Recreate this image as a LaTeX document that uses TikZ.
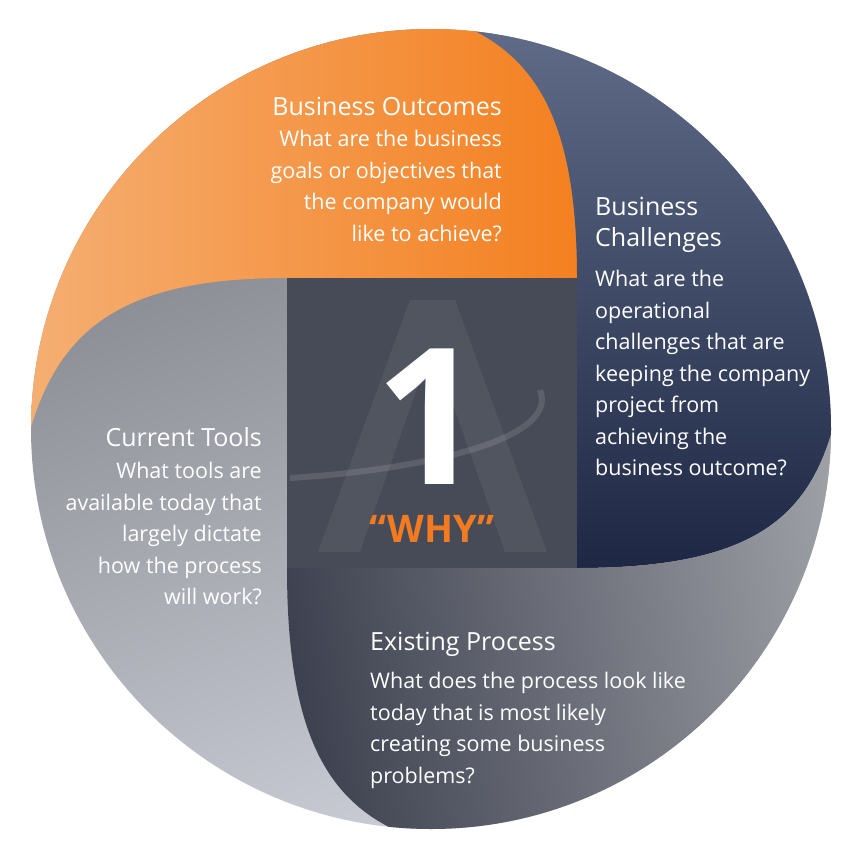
\documentclass[tikz,border=0pt]{standalone}
\usepackage{fontspec}
\setmainfont{Open Sans}
\definecolor{orangeA}{RGB}{244,128,32}
\definecolor{orangeB}{RGB}{245,178,120}
\definecolor{navyA}{RGB}{100,112,140}
\definecolor{navyB}{RGB}{30,40,68}
\definecolor{greyA}{RGB}{62,66,80}
\definecolor{greyB}{RGB}{160,162,168}
\definecolor{leftA}{RGB}{120,122,128}
\definecolor{leftB}{RGB}{208,211,220}
\definecolor{squareC}{RGB}{71,75,87}
\definecolor{whyC}{RGB}{242,122,32}
\begin{document}
\begin{tikzpicture}[x=1pt, y=-1pt,
    title/.style={text=white, font=\fontsize{25}{31}\selectfont, inner sep=0pt},
    body/.style={text=white, font=\fontsize{21.5}{31.5}\selectfont, inner sep=0pt}]
  \useasboundingbox (0,0) rectangle (862,862);
  \coordinate (c) at (431,429);
  % circle and petals
  \begin{scope}
    \clip (c) circle[radius=400pt];
    \shade[top color=leftA, bottom color=leftB, shading angle=20] (0,0) rectangle (862,862);
    \shade[left color=orangeB, right color=orangeA] (577,278) -- (287,278) .. controls (120,278) and (60,330) .. (30,430) -- (-10,430) -- (-10,-10) -- (450,-10) -- (450,20) .. controls (530,50) and (577,110) .. (577,278) -- cycle;
    \shade[top color=navyA, bottom color=navyB] (577,568) -- (577,278) .. controls (577,110) and (530,50) .. (450,20) -- (450,-10) -- (880,-10) -- (880,420) -- (835,420) .. controls (810,520) and (750,568) .. (577,568) -- cycle;
    \shade[left color=greyA, right color=greyB, shading angle=100] (287,568) -- (577,568) .. controls (750,568) and (810,520) .. (835,420) -- (880,420) -- (880,880) -- (420,880) -- (420,840) .. controls (330,810) and (287,740) .. (287,568) -- cycle;
  \end{scope}
  % centre square
  \node (sq) [fill=squareC, minimum size=290pt, inner sep=0pt] at (432,423) {};
  \fill[white, opacity=0.06] (318,552) -- (410,300) -- (455,300) -- (547,552) -- (505,552) -- (432,345) -- (360,552) -- cycle;
  \draw[white, opacity=0.12, line width=6pt] (290,478) .. controls (420,470) and (560,440) .. (540,390);
  \node (one) [text=white, font=\bfseries\fontsize{190}{190}\selectfont, inner sep=0pt, text depth=0pt, anchor=base] at (430,484) {1};
  \node (why) [text=whyC, font=\bfseries\fontsize{38}{38}\selectfont, inner sep=0pt, text height=28pt, anchor=base] at (432,542) {“WHY”};
  % texts
  \node (bo) [title, anchor=base east] at (502,115) {Business Outcomes};
  \node (bot) [body, align=right, anchor=north east] at (502,130) {What are the business\\goals or objectives that\\the company would\\like to achieve?};
  \node (bc) [title, align=left, anchor=north west] at (595,197) {Business\\Challenges};
  \node (bct) [body, align=left, anchor=north west] at (595,270) {What are the\\operational\\challenges that are\\keeping the company\\project from\\achieving the\\business outcome?};
  \node (ct) [title, anchor=base east] at (262,446) {Current Tools};
  \node (ctt) [body, align=right, anchor=north east] at (262,462) {What tools are\\available today that\\largely dictate\\how the process\\will work?};
  \node (ep) [title, anchor=base west] at (370,650) {Existing Process};
  \node (ept) [body, align=left, anchor=north west] at (370,672) {What does the process look like\\today that is most likely\\creating some business\\problems?};
\end{tikzpicture}
\end{document}
